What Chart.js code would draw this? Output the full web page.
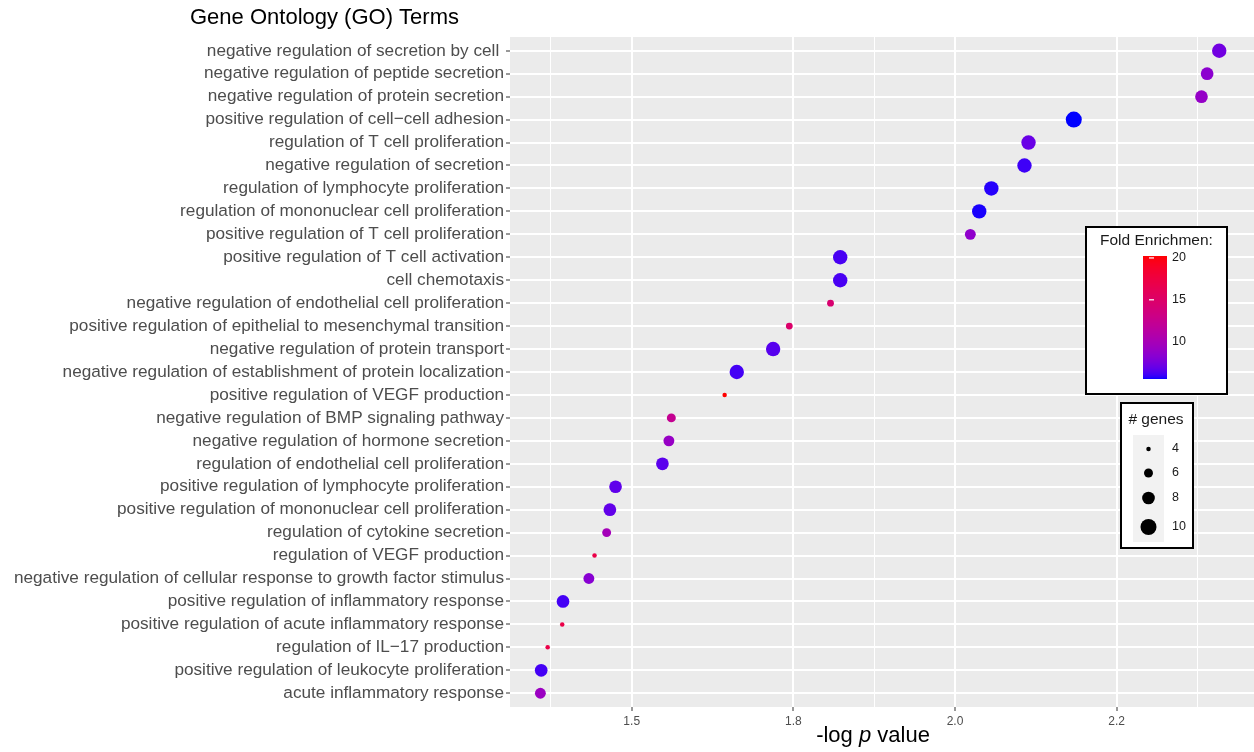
<!DOCTYPE html>
<html>
<head>
<meta charset="utf-8">
<script src="https://cdn.jsdelivr.net/npm/chart.js@4.4.1/dist/chart.umd.min.js"></script>
<style>
  html, body { margin: 0; padding: 0; background: #fff; }
  #wrap { width: 1254px; height: 752px; }
</style>
</head>
<body>
<div id="wrap"><canvas id="goChart" width="1254" height="752"></canvas></div>
<script>
// GO terms, top to bottom
const goTerms = [
    'negative regulation of secretion by cell ',
    'negative regulation of peptide secretion',
    'negative regulation of protein secretion',
    'positive regulation of cell\u2212cell adhesion',
    'regulation of T cell proliferation',
    'negative regulation of secretion',
    'regulation of lymphocyte proliferation',
    'regulation of mononuclear cell proliferation',
    'positive regulation of T cell proliferation',
    'positive regulation of T cell activation',
    'cell chemotaxis',
    'negative regulation of endothelial cell proliferation',
    'positive regulation of epithelial to mesenchymal transition',
    'negative regulation of protein transport',
    'negative regulation of establishment of protein localization',
    'positive regulation of VEGF production',
    'negative regulation of BMP signaling pathway',
    'negative regulation of hormone secretion',
    'regulation of endothelial cell proliferation',
    'positive regulation of lymphocyte proliferation',
    'positive regulation of mononuclear cell proliferation',
    'regulation of cytokine secretion',
    'regulation of VEGF production',
    'negative regulation of cellular response to growth factor stimulus',
    'positive regulation of inflammatory response',
    'positive regulation of acute inflammatory response',
    'regulation of IL\u221217 production',
    'positive regulation of leukocyte proliferation',
    'acute inflammatory response'
];

// -log p value
const logP = [
    2.327, 2.312, 2.305, 2.147, 2.091, 2.086, 2.045, 2.030, 2.019,
    1.858, 1.858, 1.846, 1.795, 1.775, 1.730, 1.715,
    1.649, 1.646, 1.638, 1.580, 1.573, 1.569, 1.554, 1.547,
    1.515, 1.514, 1.496, 1.488, 1.487
];

// Fold enrichment (colour)
const foldEnrichment = [
    7.3, 8.4, 8.9, 5.5, 7.0, 6.0, 5.7, 5.6, 8.6,
    6.2, 6.2, 14.5, 14.8, 6.5, 6.1, 20.2,
    12.3, 9.0, 6.6, 6.7, 6.8, 9.8, 17.0, 8.2,
    6.1, 17.0, 17.0, 6.1, 9.2
];

// # genes (size)
const geneCounts = [
    9, 8, 8, 10, 9, 9, 9, 9, 7,
    9, 9, 5, 5, 9, 9, 4,
    6, 7, 8, 8, 8, 6, 4, 7,
    8, 4, 4, 8, 7
];

const xTickValues = [1.6, 1.8, 2.0, 2.2];
const xTickLabels = ['1.5', '1.8', '2.0', '2.2'];
const xMinorValues = [1.5, 1.9, 2.3];
const foldBreaks = [10, 15, 20];
const geneBreaks = [4, 6, 8, 10];

const FONT = '"Liberation Sans", Arial, Helvetica, sans-serif';

// --- colour ramp blue -> red in CIELAB (like ggplot) ---
function toLin(c) { c /= 255; return c <= 0.04045 ? c / 12.92 : Math.pow((c + 0.055) / 1.055, 2.4); }
function toSrgb(c) {
    c = c <= 0.0031308 ? 12.92 * c : 1.055 * Math.pow(c, 1 / 2.4) - 0.055;
    return Math.round(Math.max(0, Math.min(1, c)) * 255);
}
function rgbToLab(rgb) {
    const r = toLin(rgb[0]), g = toLin(rgb[1]), b = toLin(rgb[2]);
    const X = (0.4124 * r + 0.3576 * g + 0.1805 * b) / 0.95047;
    const Y = 0.2126 * r + 0.7152 * g + 0.0722 * b;
    const Z = (0.0193 * r + 0.1192 * g + 0.9505 * b) / 1.08883;
    const f = t => t > 0.008856 ? Math.cbrt(t) : 7.787 * t + 16 / 116;
    return [116 * f(Y) - 16, 500 * (f(X) - f(Y)), 200 * (f(Y) - f(Z))];
}
function labToRgb(lab) {
    const fy = (lab[0] + 16) / 116, fx = fy + lab[1] / 500, fz = fy - lab[2] / 200;
    const inv = t => t * t * t > 0.008856 ? t * t * t : (t - 16 / 116) / 7.787;
    const X = inv(fx) * 0.95047, Y = inv(fy), Z = inv(fz) * 1.08883;
    return [
        toSrgb(3.2406 * X - 1.5372 * Y - 0.4986 * Z),
        toSrgb(-0.9689 * X + 1.8758 * Y + 0.0415 * Z),
        toSrgb(0.0557 * X - 0.2040 * Y + 1.0570 * Z)
    ];
}
const labLow = rgbToLab([0, 0, 255]);
const labHigh = rgbToLab([255, 0, 0]);
const foldMin = Math.min(...foldEnrichment);
const foldMax = Math.max(...foldEnrichment);

function foldColor(v) {
    const t = Math.max(0, Math.min(1, (v - foldMin) / (foldMax - foldMin)));
    const c = labToRgb(labLow.map((l, i) => l + (labHigh[i] - l) * t));
    return 'rgb(' + c.join(',') + ')';
}

// point radius from number of genes
function geneRadius(n) {
    return (-15.3 + 9.9 * Math.sqrt(n)) / 2;
}

// Background + panel
const panelBackground = {
    id: 'panelBackground',
    beforeDraw(chart) {
        const { ctx, chartArea: a } = chart;
        ctx.save();
        ctx.fillStyle = '#FFFFFF';
        ctx.fillRect(0, 0, chart.width, chart.height);
        ctx.fillStyle = '#EBEBEB';
        ctx.fillRect(a.left, a.top, a.right - a.left, a.bottom - a.top);
        ctx.restore();
    }
};

// Title, x axis title and the two legends
const annotations = {
    id: 'annotations',
    afterDraw(chart) {
        const ctx = chart.ctx;
        ctx.save();

        // title
        ctx.fillStyle = '#000';
        ctx.font = '22px ' + FONT;
        ctx.textAlign = 'left';
        ctx.textBaseline = 'alphabetic';
        ctx.fillText('Gene Ontology (GO) Terms', 190, 24);

        // x axis title with italic p
        const parts = [['-log ', ''], ['p', 'italic '], [' value', '']];
        let total = 0;
        parts.forEach(p => { ctx.font = p[1] + '22px ' + FONT; total += ctx.measureText(p[0]).width; });
        let x = 873 - total / 2;
        parts.forEach(p => {
            ctx.font = p[1] + '22px ' + FONT;
            ctx.fillText(p[0], x, 742);
            x += ctx.measureText(p[0]).width;
        });

        // colour legend
        ctx.textBaseline = 'middle';
        ctx.fillStyle = '#FFFFFF';
        ctx.fillRect(1086, 227, 141, 167);
        ctx.strokeStyle = '#000';
        ctx.lineWidth = 2;
        ctx.strokeRect(1086, 227, 141, 167);
        ctx.fillStyle = '#1A1A1A';
        ctx.font = '15.5px ' + FONT;
        ctx.textAlign = 'left';
        ctx.fillText('Fold Enrichmen:', 1100, 241);

        const barTop = 256, barBottom = 379, barLeft = 1143, barW = 24;
        for (let py = barTop; py < barBottom; py++) {
            const v = foldMax - (py - barTop + 0.5) / (barBottom - barTop) * (foldMax - foldMin);
            ctx.fillStyle = foldColor(v);
            ctx.fillRect(barLeft, py, barW, 1);
        }
        ctx.font = '12.5px ' + FONT;
        foldBreaks.forEach(b => {
            const py = barTop + (foldMax - b) / (foldMax - foldMin) * (barBottom - barTop);
            ctx.fillStyle = '#1A1A1A';
            ctx.fillText(String(b), 1172, py);
            if (b > 12) {
                ctx.fillStyle = 'rgba(255,255,255,0.8)';
                ctx.fillRect(barLeft + 6, py - 0.5, 5, 1.5);
            }
        });

        // size legend
        ctx.fillStyle = '#FFFFFF';
        ctx.fillRect(1121, 403, 72, 145);
        ctx.strokeStyle = '#000';
        ctx.lineWidth = 2;
        ctx.strokeRect(1121, 403, 72, 145);
        ctx.fillStyle = '#1A1A1A';
        ctx.font = '15.5px ' + FONT;
        ctx.textAlign = 'center';
        ctx.fillText('# genes', 1156, 420);
        ctx.fillStyle = '#F2F2F2';
        ctx.fillRect(1133, 435, 31, 107);
        const keyY = [449, 473, 498, 527];
        ctx.textAlign = 'left';
        ctx.font = '12.5px ' + FONT;
        geneBreaks.forEach((g, i) => {
            ctx.fillStyle = '#000';
            ctx.beginPath();
            ctx.arc(1148.5, keyY[i], geneRadius(g), 0, Math.PI * 2);
            ctx.fill();
            ctx.fillStyle = '#1A1A1A';
            ctx.fillText(String(g), 1172, keyY[i]);
        });

        ctx.restore();
    }
};

const points = logP.map((v, i) => ({ x: v, y: i }));
const isMajor = v => xTickValues.some(t => Math.abs(t - v) < 1e-9);

new Chart(document.getElementById('goChart').getContext('2d'), {
    type: 'scatter',
    data: {
        datasets: [{
            label: 'GO terms',
            data: points,
            backgroundColor: foldEnrichment.map(foldColor),
            borderWidth: 0,
            pointRadius: geneCounts.map(geneRadius),
            pointHoverRadius: geneCounts.map(geneRadius)
        }]
    },
    options: {
        responsive: false,
        devicePixelRatio: 1,
        animation: false,
        events: [],
        layout: { autoPadding: false, padding: { top: 37, right: 0, bottom: 0, left: 0 } },
        plugins: {
            legend: { display: false },
            title: { display: false },
            tooltip: { enabled: false }
        },
        scales: {
            x: {
                type: 'linear',
                min: 1.4494,
                max: 2.370,
                afterBuildTicks(axis) {
                    axis.ticks = xTickValues.concat(xMinorValues)
                        .sort((a, b) => a - b)
                        .map(v => ({ value: v }));
                },
                afterFit(axis) {
                    axis.height = 45;
                    axis.paddingLeft = 0;
                    axis.paddingRight = 0;
                },
                ticks: {
                    autoSkip: false,
                    maxRotation: 0,
                    padding: 3,
                    color: '#4D4D4D',
                    font: { family: FONT, size: 12 },
                    callback(value) {
                        const i = xTickValues.findIndex(t => Math.abs(t - value) < 1e-9);
                        return i >= 0 ? xTickLabels[i] : '';
                    }
                },
                grid: {
                    color: '#FFFFFF',
                    lineWidth: c => (c.tick && isMajor(c.tick.value)) ? 2 : 1,
                    tickColor: c => (c.tick && isMajor(c.tick.value)) ? '#333333' : 'rgba(0,0,0,0)',
                    tickWidth: 1,
                    tickLength: 4
                },
                border: { display: false }
            },
            y: {
                type: 'linear',
                reverse: true,
                min: -0.6,
                max: goTerms.length - 0.4,
                afterBuildTicks(axis) {
                    axis.ticks = goTerms.map((t, i) => ({ value: i }));
                },
                afterFit(axis) {
                    axis.width = 510;
                    axis.paddingTop = 0;
                    axis.paddingBottom = 0;
                },
                ticks: {
                    autoSkip: false,
                    padding: 2,
                    color: '#4D4D4D',
                    font: { family: FONT, size: 17.2 },
                    callback: value => goTerms[value]
                },
                grid: {
                    color: '#FFFFFF',
                    lineWidth: 2,
                    tickColor: '#333333',
                    tickWidth: 1,
                    tickLength: 4
                },
                border: { display: false }
            }
        }
    },
    plugins: [panelBackground, annotations]
});
</script>
</body>
</html>
